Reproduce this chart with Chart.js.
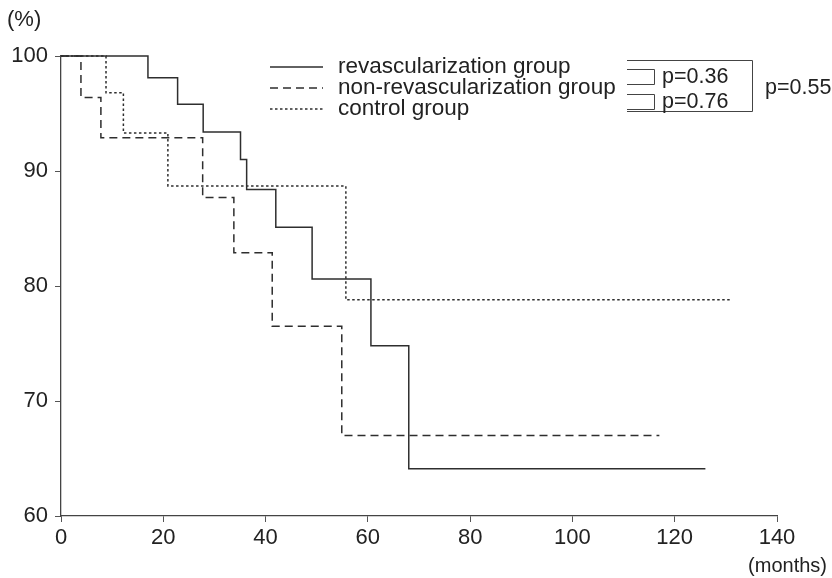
<!DOCTYPE html>
<html>
<head>
<meta charset="utf-8">
<script src="https://cdn.jsdelivr.net/npm/chart.js@4"></script>
<style>
html,body{margin:0;padding:0;background:#fff;}
#wrap{width:832px;height:578px;position:relative;}
</style>
</head>
<body>
<div id="wrap"><canvas id="c"></canvas></div>
<script>
// ---- data ----
const seriesNames = ["revascularization group", "non-revascularization group", "control group"];
const revascMonths = [0, 17, 22.8, 27.8, 35.1, 36.3, 42, 49.1, 60.6, 68, 126];
const revascSurvival = [100, 98.1, 95.8, 93.4, 91.0, 88.4, 85.1, 80.6, 74.8, 64.1, 64.1];
const nonRevascMonths = [0, 3.9, 7.8, 27.7, 33.8, 41.3, 54.9, 117];
const nonRevascSurvival = [100, 96.4, 92.9, 87.7, 82.9, 76.5, 67.0, 67.0];
const controlMonths = [0, 8.8, 12.2, 20.9, 55.7, 131];
const controlSurvival = [100, 96.8, 93.3, 88.7, 78.8, 78.8];
const xTicks = [0, 20, 40, 60, 80, 100, 120, 140];
const yTicks = [60, 70, 80, 90, 100];
const pLabels = ["p=0.36", "p=0.76", "p=0.55"];
const yUnit = "(%)";
const xUnit = "(months)";

const FONT = "'Liberation Sans', Arial, Helvetica, sans-serif";
const INK = "#222";
const LINE = "#2e2e2e";

function pts(xs, ys){ return xs.map((x,i)=>({x:x, y:ys[i]})); }

const dashStyles = [[], [8,5], [2.5,2.5]];

const decorPlugin = {
  id: 'decor',
  afterDraw(chart){
    const ctx = chart.ctx;
    ctx.save();
    ctx.fillStyle = INK;
    ctx.textBaseline = 'middle';
    ctx.font = "22px " + FONT;
    ctx.textAlign = 'left';
    ctx.fillText(yUnit, 7, 20);
    ctx.font = "20px " + FONT;
    ctx.textAlign = 'right';
    ctx.fillText(xUnit, 827, 566);
    // legend
    const ly = [67, 88, 109];
    ctx.font = "22.5px " + FONT;
    ctx.textAlign = 'left';
    chart.data.datasets.forEach((ds, i) => {
      ctx.beginPath();
      ctx.setLineDash(ds.borderDash || []);
      ctx.lineWidth = ds.borderWidth;
      ctx.strokeStyle = ds.borderColor;
      ctx.moveTo(270, ly[i]); ctx.lineTo(323, ly[i]);
      ctx.stroke();
      ctx.fillText(ds.label, 338, ly[i]);
    });
    ctx.setLineDash([]);
    // brackets
    ctx.strokeStyle = "#444";
    ctx.lineWidth = 1;
    ctx.beginPath();
    ctx.moveTo(627, 60.5); ctx.lineTo(752.5, 60.5); ctx.lineTo(752.5, 111.5); ctx.lineTo(627, 111.5);
    ctx.moveTo(627, 69.5); ctx.lineTo(654.5, 69.5); ctx.lineTo(654.5, 84.5); ctx.lineTo(627, 84.5);
    ctx.moveTo(627, 94.5); ctx.lineTo(654.5, 94.5); ctx.lineTo(654.5, 109.5); ctx.lineTo(627, 109.5);
    ctx.stroke();
    ctx.font = "21.5px " + FONT;
    ctx.fillText(pLabels[0], 662, 77);
    ctx.fillText(pLabels[1], 662, 102);
    ctx.fillText(pLabels[2], 765, 88);
    ctx.restore();
  }
};

new Chart(document.getElementById('c'), {
  type: 'line',
  data: {
    datasets: [
      { label: seriesNames[0], data: pts(revascMonths, revascSurvival), borderDash: dashStyles[0] },
      { label: seriesNames[1], data: pts(nonRevascMonths, nonRevascSurvival), borderDash: dashStyles[1] },
      { label: seriesNames[2], data: pts(controlMonths, controlSurvival), borderDash: dashStyles[2] }
    ].map(d => Object.assign(d, {
      stepped: 'before', borderColor: LINE, borderWidth: 1.5, pointRadius: 0, fill: false, clip: 6, tension: 0
    }))
  },
  options: {
    responsive: true,
    maintainAspectRatio: false,
    animation: false,
    layout: { padding: { top: 56, right: 55, left: 0, bottom: 0 } },
    plugins: { legend: { display: false }, tooltip: { enabled: false } },
    scales: {
      x: {
        type: 'linear', min: 0, max: 140,
        afterFit(s){ s.height = 62; },
        afterBuildTicks(s){ s.ticks = xTicks.map(v => ({value: v})); },
        ticks: { color: INK, font: { family: FONT, size: 22 }, padding: 3, maxRotation: 0 },
        grid: { display: true, drawOnChartArea: false, drawTicks: true, tickLength: 6, color: '#555', lineWidth: 1 },
        border: { display: true, color: '#444', width: 1.3 }
      },
      y: {
        type: 'linear', min: 60, max: 100,
        afterFit(s){ s.width = 61; },
        afterBuildTicks(s){ s.ticks = yTicks.map(v => ({value: v})); },
        ticks: { color: INK, font: { family: FONT, size: 22 }, padding: 7 },
        grid: { display: true, drawOnChartArea: false, drawTicks: true, tickLength: 6, color: '#555', lineWidth: 1 },
        border: { display: true, color: '#444', width: 1.3 }
      }
    }
  },
  plugins: [decorPlugin]
});
</script>
</body>
</html>
